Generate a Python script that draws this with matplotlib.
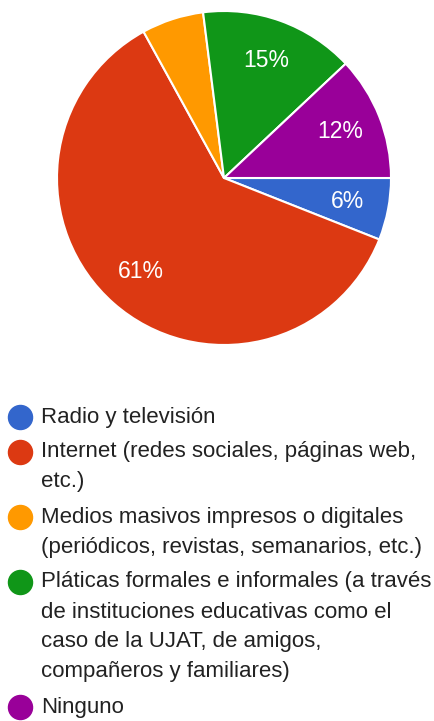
import matplotlib
matplotlib.use("Agg")
import matplotlib.pyplot as plt

plt.rcParams["font.family"] = ["Liberation Sans", "DejaVu Sans"]

# ── Data ──────────────────────────────────────────────────────────────────────
categories = [
    "Radio y televisión",
    "Internet (redes sociales, páginas web,\netc.)",
    "Medios masivos impresos o digitales\n(periódicos, revistas, semanarios, etc.)",
    "Pláticas formales e informales (a través\nde instituciones educativas como el\ncaso de la UJAT, de amigos,\ncompañeros y familiares)",
    "Ninguno",
]
shares = [6, 61, 6, 15, 12]
colors = ["#3366cc", "#dc3912", "#ff9900", "#109618", "#990099"]
hidden_label = [False, False, True, False, False]  # orange slice has no label

W, H = 434, 721
fig = plt.figure(figsize=(W / 100, H / 100), dpi=100)
fig.patch.set_facecolor("white")

# pie: centre (224,178), radius ~167 px
cx, cy, r = 224, 178, 167
ax = fig.add_axes([(cx - r) / W, 1 - (cy + r) / H, 2 * r / W, 2 * r / H])
wedges, _, autotexts = ax.pie(
    shares, colors=colors, startangle=0, counterclock=False,
    autopct=lambda p: f"{round(p)}%", pctdistance=0.75,
    wedgeprops=dict(edgecolor="white", linewidth=1.5),
    textprops=dict(color="white", fontsize=16.5),
)
for t, hide in zip(autotexts, hidden_label):
    t.set_visible(not hide)
ax.set_xlim(-1, 1)
ax.set_ylim(-1, 1)
ax.set_aspect("equal")

# ── Legend (drawn by hand, wrapped lines) ─────────────────────────────────────
lg = fig.add_axes([0, 0, 1, 1])
lg.set_xlim(0, W)
lg.set_ylim(H, 0)
lg.axis("off")

y = 417
line_step, item_gap = 30, 35
for label, col in zip(categories, colors):
    lg.scatter([20], [y], s=300, color=col, zorder=3)
    lines = label.split("\n")
    for i, ln in enumerate(lines):
        lg.text(41, y + i * line_step, ln, fontsize=16, color="#222222",
                va="center", ha="left")
    y += (len(lines) - 1) * line_step + item_gap

fig.savefig("out.png", dpi=100, facecolor="white")
